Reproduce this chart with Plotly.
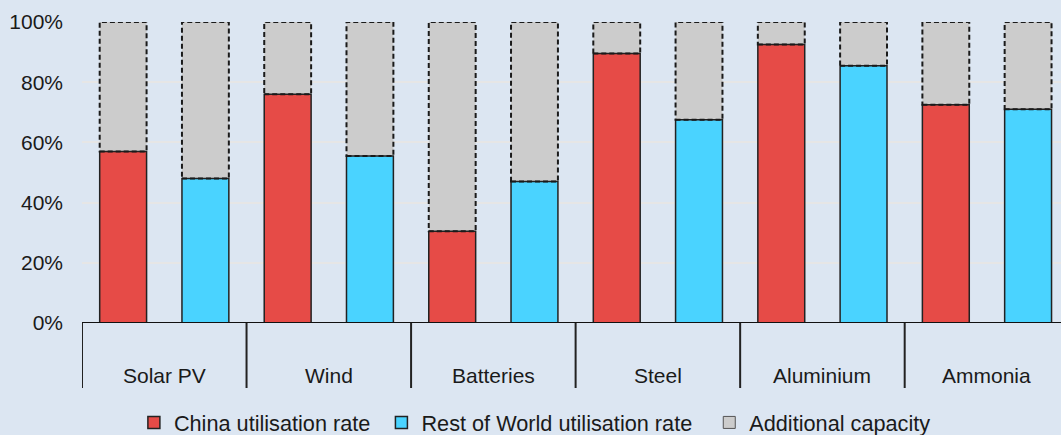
import plotly.graph_objects as go

# Utilisation rates (%)
sectors = ["Solar PV", "Wind", "Batteries", "Steel", "Aluminium", "Ammonia"]
china_rate = [57, 76, 30.5, 89.5, 92.5, 72.5]
row_rate = [48, 55.5, 47, 67.5, 85.5, 71]
y_ticks = [0, 20, 40, 60, 80, 100]
y_tick_text = [f"{t}%" for t in y_ticks]

bar_w = 0.57
red = "#e64b47"
blue = "#4ad3ff"
grey = "#cccccc"
bg = "#dce6f2"
nb = "\u00a0"

china_x = [2 * i for i in range(len(sectors))]
row_x = [2 * i + 1 for i in range(len(sectors))]

fig = go.Figure()

# grey "additional capacity" fills on top of each utilisation bar
all_x = china_x + row_x
all_v = china_rate + row_rate
fig.add_trace(go.Bar(
    x=all_x, y=[100 - v for v in all_v], base=all_v, width=bar_w,
    marker=dict(color=grey, line=dict(width=0)), showlegend=False, hoverinfo="skip"))

fig.add_trace(go.Bar(
    x=china_x, y=china_rate, width=bar_w, name="China utilisation rate" + nb,
    marker=dict(color=red, line=dict(color="#222222", width=1.5))))
fig.add_trace(go.Bar(
    x=row_x, y=row_rate, width=bar_w, name="Rest of World utilisation rate" + nb * 2,
    marker=dict(color=blue, line=dict(color="#222222", width=1.5))))
# legend entry for the grey part
fig.add_trace(go.Bar(
    x=[None], y=[None], name="Additional capacity",
    marker=dict(color=grey, line=dict(color="#555555", width=1))))

shapes = []
# dashed outlines around the grey parts
for x, v in zip(all_x, all_v):
    shapes.append(dict(type="rect", xref="x", yref="y",
                       x0=x - bar_w / 2, x1=x + bar_w / 2, y0=v, y1=100,
                       line=dict(color="#1a1a1a", width=2, dash="5px,3px")))
# category separators below the axis
for i in range(len(sectors)):
    shapes.append(dict(type="line", xref="x", yref="paper",
                       x0=2 * i - 0.5, x1=2 * i - 0.5, y0=0, y1=-0.216,
                       line=dict(color="#222222", width=2)))
shapes.append(dict(type="line", xref="paper", yref="y", x0=0, x1=1, y0=0, y1=0,
                   line=dict(color="#111111", width=2)))

annotations = [dict(x=2 * i + 0.5, y=-0.176, xref="x", yref="paper",
                    text=s, showarrow=False, yanchor="middle",
                    font=dict(size=21, color="#1a1a1a"))
               for i, s in enumerate(sectors)]

fig.update_layout(
    width=1061, height=435,
    margin=dict(l=82, r=0, t=22, b=112),
    paper_bgcolor=bg, plot_bgcolor=bg,
    barmode="overlay",
    font=dict(family="Liberation Sans, Arial, sans-serif", size=21, color="#1a1a1a"),
    shapes=shapes, annotations=annotations,
    xaxis=dict(range=[-0.5, 11.4], showticklabels=False, showgrid=False,
               zeroline=False, fixedrange=True),
    yaxis=dict(range=[0, 100], tickvals=y_ticks, ticktext=y_tick_text,
               showgrid=True, gridcolor="#e6e6e6", gridwidth=1.5,
               zeroline=False, ticklabelstandoff=18),
    legend=dict(orientation="h", x=0.053, xanchor="left",
                yref="container", y=0.028, yanchor="middle",
                font=dict(size=21.7), itemwidth=30, traceorder="normal"),
    showlegend=True,
)

fig.write_html("out.html", config={"displayModeBar": False},
               post_script="document.body.style.margin='0';")
